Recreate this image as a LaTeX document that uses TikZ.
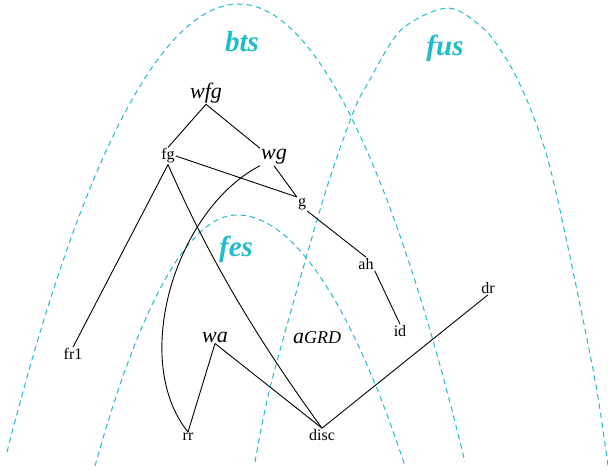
\documentclass[tikz,border=0pt]{standalone}
\usepackage{fontspec}
\setmainfont{Liberation Serif}
\definecolor{setcyan}{RGB}{32,188,200}

\begin{document}
\begin{tikzpicture}[x=1pt, y=-1pt,
    lbl/.style={inner sep=1pt, font=\fontsize{16}{18}\selectfont},
    var/.style={inner sep=1pt, font=\fontsize{22}{26}\selectfont\itshape},
    setlbl/.style={text=setcyan, font=\fontsize{29}{34}\selectfont\bfseries\itshape},
    setline/.style={setcyan, line width=1pt, dash pattern=on 5.5pt off 4pt},
    edge/.style={line width=0.9pt}]
    \useasboundingbox (0,0) rectangle (608,469);

    \draw[setline] (7,452) parabola bend (239,4) (465,462);
    \draw[setline] plot[smooth] coordinates {(255,462) (272,380) (323,200) (353,113) (368,83) (401,30) (448,8) (485,30) (511,67) (531,110) (548,160) (565,233) (595,380) (608,466)};
    \draw[setline] (95,466) parabola bend (237,215) (405,466);

    \node[setlbl] (bts) at (242,42) {bts};
    \node[setlbl] (fus) at (445,48) {fus};
    \node[setlbl] (fes) at (236,249) {fes};

    \node[var] (wfg) at (206,93) {wfg};
    \node[lbl] (fg) at (168,156) {fg};
    \node[var] (wg) at (274,157) {wg};
    \node[lbl] (g) at (302,204) {g};
    \node[lbl] (ah) at (366,264) {ah};
    \node[lbl] (id) at (400,331) {id};
    \node[lbl] (dr) at (488,288) {dr};
    \node[lbl] (fr1) at (73,354) {fr1};
    \node[var] (wa) at (215,337) {wa};
    \node[var] (agrd) at (317,338) {a{\fontsize{18}{22}\selectfont GRD}};
    \node[lbl] (rr) at (188,437) {rr};
    \node[lbl] (disc) at (322,435) {disc};

    \draw[edge] (wfg.south) -- (fg.north);
    \draw[edge] (wfg.south) -- (wg.north west);
    \draw[edge] (fg.east) -- (g.north west);
    \draw[edge] (wg.south) -- (g.north west);
    \draw[edge] (g.south east) -- (ah.north);
    \draw[edge] (ah.south east) -- (id.north);
    \draw[edge] (fg.south) -- (fr1.north);
    \draw[edge] (fg.south) .. controls (208,256) and (255,336) .. (disc.north);
    \draw[edge] (wg.south west) .. controls (175,210) and (130,360) .. (rr.north);
    \draw[edge] (wa.south) -- (rr.north);
    \draw[edge] (wa.south) -- (disc.north);
    \draw[edge] (disc.north) -- (dr.south);
\end{tikzpicture}
\end{document}
